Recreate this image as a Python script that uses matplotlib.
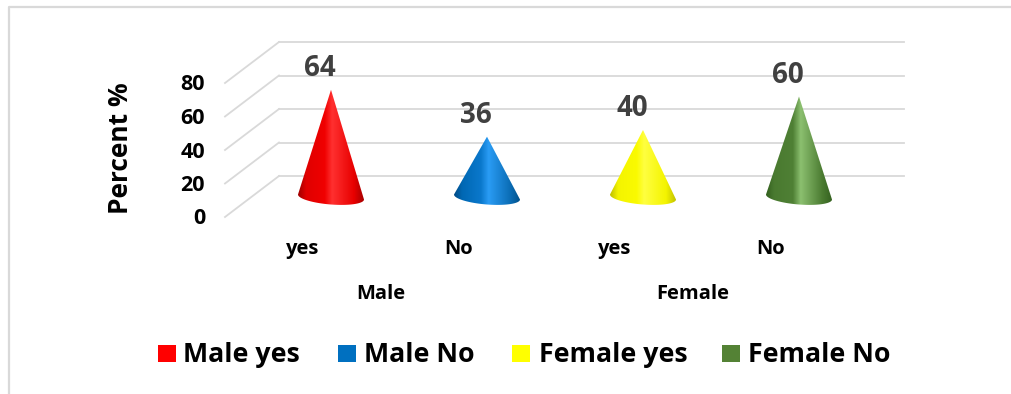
import numpy as np
import matplotlib
matplotlib.use("Agg")
import matplotlib.pyplot as plt
from matplotlib.colors import LinearSegmentedColormap
from matplotlib.patches import Polygon, Rectangle

plt.rcParams["font.family"] = ["Open Sans", "DejaVu Sans"]
plt.rcParams["font.weight"] = "bold"

W, H = 1011, 394
DPI = 100
PT = 72 / DPI   # points per pixel

answers = ["yes", "No", "yes", "No"]
groups = ["Male", "Female"]
series = ["Male yes", "Male No", "Female yes", "Female No"]
percent = [64, 36, 40, 60]
grid_values = [0, 20, 40, 60, 80]
swatches = ["#ff0000", "#0070c0", "#ffff00", "#548235"]
shades = [
    ["#a00000", "#e00000", "#f00000", "#ff3030", "#e80000", "#a80000"],
    ["#004a85", "#0068b4", "#0a78cc", "#2a9cf5", "#0a6cb4", "#004f88"],
    ["#c0c000", "#f4f400", "#fafa00", "#ffff40", "#f4f400", "#c4c400"],
    ["#33601f", "#4a7a30", "#4f8035", "#8cc070", "#4a7a30", "#33601f"],
]
stops = [0, 0.12, 0.4, 0.52, 0.85, 1]

# pixel layout of the category/value axes
X0, XSTEP = 331, 156
Y0, YSCALE = 197, 1.675
DY_WALL = 21        # back wall above the cone base plane
DY_FRONT = 20       # front edge of the floor below it

fig = plt.figure(figsize=(W / DPI, H / DPI), dpi=DPI, facecolor="white")
ax = fig.add_axes([0, 0, 1, 1])
xlim = (-X0 / XSTEP, (W - X0) / XSTEP)
ylim = ((Y0 - H) / YSCALE, Y0 / YSCALE)
ax.axis("off")

# outer chart frame
fig.add_artist(plt.Line2D([8.5 / W, 8.5 / W, 1], [0, 1 - 6.5 / H, 1 - 6.5 / H],
                          color="#d9d9d9", lw=1.6))

# floor edges and back wall gridlines
xfront = (225 - X0) / XSTEP
xback = (279 - X0) / XSTEP
xright = (904 - X0) / XSTEP
for v in grid_values:
    vback = v + DY_WALL / YSCALE
    vfront = v - DY_FRONT / YSCALE
    ax.plot([xfront, xback], [vfront, vback], color="#d9d9d9", lw=1.3, zorder=1)
    ax.plot([xback, xright], [vback, vback], color="#d9d9d9", lw=1.3, zorder=1)
    ax.annotate(str(v), (xfront, vfront), xytext=(-20 * PT, -2 * PT),
                textcoords="offset points", ha="right", va="center",
                fontsize=15.5, color="black")

# cones with a horizontal shading ramp
half_w = 33 / XSTEP
half_h = 7.5 / YSCALE
tilt = 2.5 / YSCALE
t = np.linspace(np.pi, 2 * np.pi, 60)
for i, (val, ramp) in enumerate(zip(percent, shades)):
    xs = i + half_w * np.cos(t)
    ys = half_h * np.sin(t) - tilt * np.cos(t)
    outline = np.column_stack([np.r_[i, xs], np.r_[val, ys]])
    poly = Polygon(outline, closed=True, facecolor="none", edgecolor="none", zorder=3)
    ax.add_patch(poly)
    cmap = LinearSegmentedColormap.from_list(f"cone{i}", list(zip(stops, ramp)))
    img = ax.imshow(np.linspace(0, 1, 128)[None, :], cmap=cmap, aspect="auto",
                    extent=(i - half_w, i + half_w, ys.min(), val),
                    origin="lower", zorder=3, interpolation="bilinear")
    img.set_clip_path(poly)
    ax.annotate(str(val), (i, val), xytext=(-11 * PT, 21 * PT),
                textcoords="offset points", ha="center", va="center",
                fontsize=20, color="#404040", zorder=4)

# category labels, two levels
for i, label in enumerate(answers):
    ax.annotate(label, (i, 0), xytext=(-28 * PT, -52 * PT),
                textcoords="offset points", ha="center", va="center",
                fontsize=14.5, color="black")
for j, label in enumerate(groups):
    ax.annotate(label, (2 * j + 0.5, 0), xytext=(-28 * PT, -97 * PT),
                textcoords="offset points", ha="center", va="center",
                fontsize=14.5, color="black")

fig.text(120 / W, 1 - 148 / H, "Percent %", rotation=90, ha="center", va="center",
         fontsize=19, color="black")

# legend row
legend_swatch_x = [158, 338, 512, 722]
legend_text_x = [183, 364, 539, 748]
for c, s, sx, tx in zip(swatches, series, legend_swatch_x, legend_text_x):
    fig.add_artist(Rectangle((sx / W, 1 - 362 / H), 17.5 / W, 17 / H,
                             facecolor=c, edgecolor="none",
                             transform=fig.transFigure))
    fig.text(tx / W, 1 - 355 / H, s, ha="left", va="center",
             fontsize=19.3, color="black")

ax.set_xlim(xlim)
ax.set_ylim(ylim)
fig.savefig("out.png", dpi=DPI)
